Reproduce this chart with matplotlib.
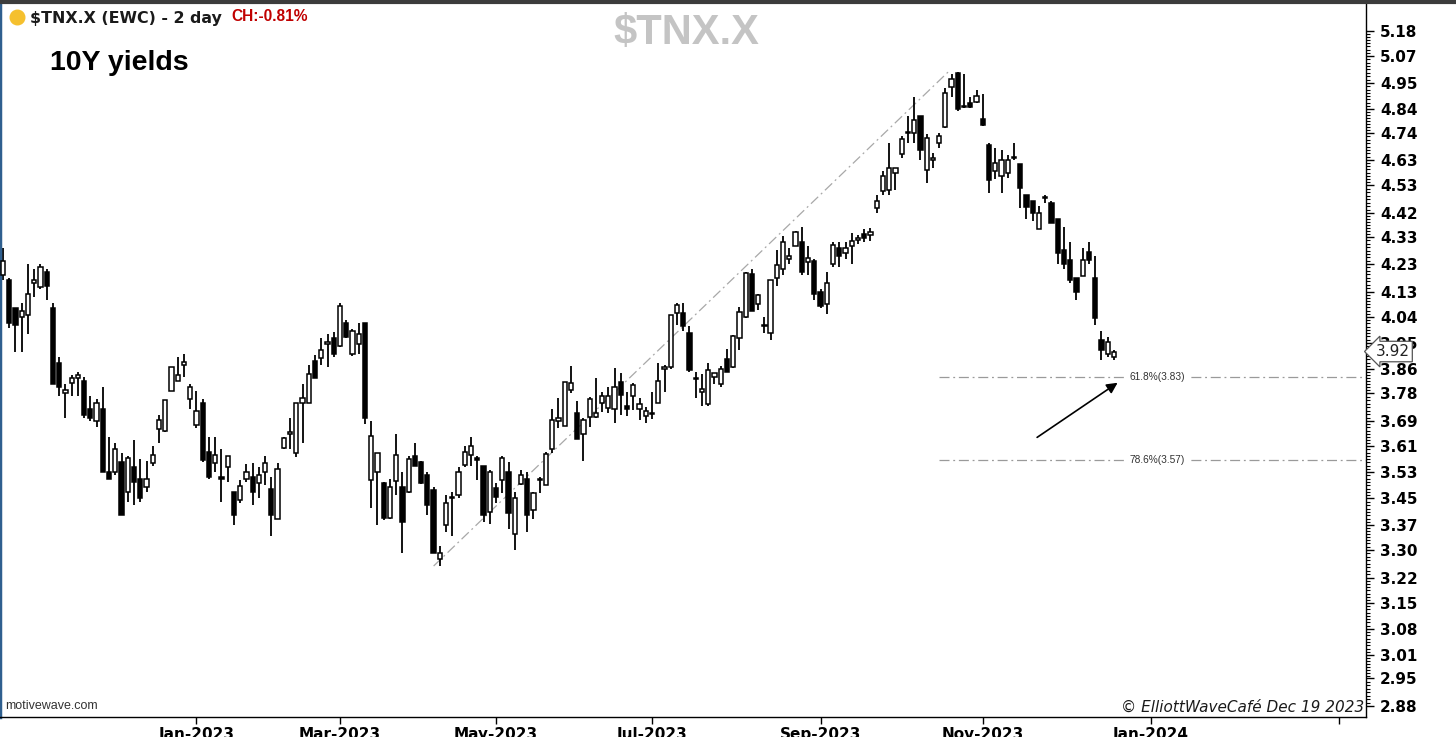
import datetime as dt
import numpy as np
import matplotlib
matplotlib.use("Agg")
import matplotlib.pyplot as plt
from matplotlib.ticker import NullFormatter, FixedLocator
from matplotlib.transforms import blended_transform_factory
from matplotlib.lines import Line2D

# ---------------- data (2-day bars, $TNX.X) ----------------
opens = [4.19, 4.17, 4.07, 4.04, 4.045, 4.16, 4.145, 4.20, 4.07, 3.88,
         3.78, 3.815, 3.83, 3.82, 3.73, 3.69, 3.73, 3.53, 3.53, 3.56,
         3.47, 3.546, 3.51, 3.485, 3.558, 3.664, 3.658, 3.787, 3.82, 3.875,
         3.76, 3.678, 3.75, 3.592, 3.558, 3.515, 3.545, 3.47, 3.445, 3.51,
         3.515, 3.497, 3.53, 3.478, 3.39, 3.604, 3.65, 3.588, 3.75, 3.75,
         3.887, 3.898, 3.945, 3.966, 3.94, 4.017, 3.913, 3.945, 4.017, 3.506,
         3.53, 3.497, 3.393, 3.503, 3.484, 3.47, 3.58, 3.56, 3.52, 3.475,
         3.273, 3.37, 3.455, 3.46, 3.553, 3.582, 3.572, 3.55, 3.41, 3.48,
         3.506, 3.53, 3.345, 3.495, 3.51, 3.415, 3.505, 3.49, 3.60, 3.69,
         3.675, 3.79, 3.717, 3.648, 3.703, 3.703, 3.749, 3.733, 3.73, 3.818,
         3.74, 3.77, 3.73, 3.706, 3.717, 3.748, 3.862, 3.867, 4.055, 4.055,
         3.984, 3.83, 3.785, 3.744, 3.835, 3.81, 3.895, 3.867, 3.968, 4.04,
         4.195, 4.085, 4.012, 3.984, 4.18, 4.21, 4.25, 4.297, 4.31, 4.238,
         4.24, 4.13, 4.085, 4.23, 4.29, 4.27, 4.296, 4.32, 4.34, 4.337,
         4.44, 4.507, 4.51, 4.58, 4.655, 4.74, 4.742, 4.81, 4.59, 4.63,
         4.70, 4.765, 4.935, 4.995, 4.852, 4.865, 4.87, 4.80, 4.69, 4.585,
         4.565, 4.58, 4.642, 4.615, 4.49, 4.47, 4.36, 4.482, 4.46, 4.40,
         4.28, 4.245, 4.18, 4.185, 4.275, 4.18, 3.96, 3.91, 3.90]
highs = [4.29, 4.18, 4.07, 4.09, 4.23, 4.21, 4.23, 4.21, 4.09, 3.90,
         3.81, 3.84, 3.85, 3.835, 3.77, 3.76, 3.80, 3.64, 3.62, 3.59,
         3.58, 3.63, 3.57, 3.565, 3.61, 3.71, 3.758, 3.867, 3.90, 3.91,
         3.81, 3.787, 3.76, 3.64, 3.64, 3.60, 3.58, 3.47, 3.505, 3.555,
         3.558, 3.545, 3.58, 3.515, 3.558, 3.64, 3.70, 3.75, 3.81, 3.873,
         3.908, 3.968, 3.98, 3.988, 4.088, 4.03, 3.997, 4.02, 4.02, 3.69,
         3.59, 3.50, 3.51, 3.65, 3.53, 3.58, 3.62, 3.565, 3.53, 3.485,
         3.31, 3.46, 3.47, 3.545, 3.61, 3.64, 3.58, 3.55, 3.535, 3.497,
         3.58, 3.56, 3.47, 3.535, 3.53, 3.47, 3.515, 3.592, 3.73, 3.765,
         3.818, 3.87, 3.756, 3.70, 3.768, 3.83, 3.785, 3.80, 3.863, 3.847,
         3.785, 3.815, 3.765, 3.736, 3.785, 3.88, 3.874, 4.047, 4.09, 4.09,
         4.007, 3.85, 3.845, 3.88, 3.846, 3.87, 3.93, 3.977, 4.076, 4.20,
         4.21, 4.12, 4.04, 4.172, 4.28, 4.335, 4.29, 4.355, 4.37, 4.295,
         4.25, 4.14, 4.20, 4.31, 4.31, 4.31, 4.346, 4.337, 4.36, 4.365,
         4.49, 4.585, 4.70, 4.60, 4.73, 4.81, 4.89, 4.81, 4.735, 4.66,
         4.74, 4.93, 4.99, 5.00, 4.99, 4.89, 4.92, 4.905, 4.70, 4.68,
         4.67, 4.65, 4.70, 4.615, 4.49, 4.47, 4.45, 4.49, 4.47, 4.40,
         4.37, 4.31, 4.18, 4.29, 4.31, 4.26, 3.99, 3.97, 3.925]
lows = [4.17, 4.00, 3.92, 3.92, 3.98, 4.11, 4.14, 4.10, 3.81, 3.77,
        3.70, 3.77, 3.77, 3.70, 3.69, 3.67, 3.53, 3.51, 3.52, 3.40,
        3.44, 3.43, 3.44, 3.47, 3.55, 3.62, 3.655, 3.787, 3.82, 3.835,
        3.73, 3.668, 3.56, 3.51, 3.53, 3.44, 3.50, 3.37, 3.437, 3.50,
        3.43, 3.45, 3.49, 3.34, 3.39, 3.60, 3.60, 3.576, 3.62, 3.75,
        3.83, 3.875, 3.867, 3.90, 3.935, 3.966, 3.904, 3.913, 3.68, 3.42,
        3.37, 3.385, 3.39, 3.46, 3.29, 3.467, 3.55, 3.494, 3.40, 3.29,
        3.253, 3.35, 3.34, 3.45, 3.546, 3.55, 3.506, 3.38, 3.375, 3.437,
        3.467, 3.36, 3.30, 3.49, 3.35, 3.39, 3.467, 3.49, 3.59, 3.668,
        3.675, 3.78, 3.632, 3.565, 3.67, 3.70, 3.72, 3.717, 3.685, 3.71,
        3.706, 3.727, 3.693, 3.685, 3.697, 3.748, 3.785, 3.862, 4.01, 3.99,
        3.85, 3.766, 3.74, 3.738, 3.81, 3.80, 3.85, 3.864, 3.925, 4.036,
        4.06, 4.065, 3.984, 3.96, 4.15, 4.19, 4.23, 4.297, 4.19, 4.19,
        4.10, 4.07, 4.05, 4.22, 4.22, 4.25, 4.23, 4.305, 4.31, 4.316,
        4.42, 4.49, 4.49, 4.51, 4.64, 4.70, 4.70, 4.63, 4.54, 4.60,
        4.68, 4.76, 4.89, 4.83, 4.845, 4.845, 4.865, 4.77, 4.50, 4.555,
        4.50, 4.56, 4.63, 4.44, 4.40, 4.39, 4.36, 4.46, 4.385, 4.23,
        4.21, 4.16, 4.10, 4.185, 4.23, 4.01, 3.89, 3.90, 3.89]
closes = [4.24, 4.02, 4.01, 4.06, 4.12, 4.17, 4.22, 4.15, 3.81, 3.80,
          3.79, 3.83, 3.84, 3.71, 3.70, 3.75, 3.53, 3.51, 3.60, 3.40,
          3.574, 3.50, 3.45, 3.51, 3.582, 3.693, 3.758, 3.867, 3.84, 3.885,
          3.80, 3.723, 3.567, 3.515, 3.582, 3.51, 3.58, 3.40, 3.487, 3.53,
          3.468, 3.52, 3.558, 3.40, 3.54, 3.635, 3.655, 3.748, 3.765, 3.843,
          3.83, 3.925, 3.952, 3.912, 4.077, 3.97, 3.99, 3.98, 3.70, 3.642,
          3.59, 3.393, 3.484, 3.583, 3.38, 3.57, 3.55, 3.497, 3.43, 3.29,
          3.29, 3.437, 3.45, 3.53, 3.592, 3.61, 3.568, 3.40, 3.53, 3.455,
          3.572, 3.407, 3.45, 3.52, 3.40, 3.465, 3.51, 3.585, 3.695, 3.70,
          3.818, 3.815, 3.632, 3.695, 3.761, 3.717, 3.772, 3.772, 3.80, 3.776,
          3.73, 3.806, 3.745, 3.723, 3.714, 3.822, 3.868, 4.047, 4.082, 4.007,
          3.857, 3.826, 3.795, 3.857, 3.846, 3.86, 3.85, 3.973, 4.058, 4.198,
          4.06, 4.117, 4.008, 4.172, 4.225, 4.312, 4.26, 4.349, 4.20, 4.253,
          4.12, 4.08, 4.16, 4.30, 4.26, 4.29, 4.316, 4.325, 4.327, 4.348,
          4.468, 4.566, 4.60, 4.60, 4.715, 4.745, 4.796, 4.67, 4.72, 4.64,
          4.73, 4.908, 4.967, 4.84, 4.848, 4.85, 4.895, 4.775, 4.55, 4.62,
          4.63, 4.63, 4.638, 4.52, 4.445, 4.42, 4.42, 4.478, 4.385, 4.27,
          4.23, 4.17, 4.13, 4.245, 4.245, 4.035, 3.925, 3.952, 3.92]

last_bar_date = dt.date(2023, 12, 19)
holidays = [dt.date(2022, 11, 24), dt.date(2022, 12, 26), dt.date(2023, 1, 2),
            dt.date(2023, 1, 16), dt.date(2023, 2, 20), dt.date(2023, 4, 7),
            dt.date(2023, 5, 29), dt.date(2023, 6, 19), dt.date(2023, 7, 4),
            dt.date(2023, 9, 4), dt.date(2023, 11, 23), dt.date(2023, 12, 25)]
month_starts = [dt.date(2023, 1, 1), dt.date(2023, 3, 1), dt.date(2023, 5, 1),
                dt.date(2023, 7, 1), dt.date(2023, 9, 1), dt.date(2023, 11, 1),
                dt.date(2024, 1, 1), dt.date(2024, 3, 1)]
month_labels = ["Jan-2023", "Mar-2023", "May-2023", "Jul-2023", "Sep-2023",
                "Nov-2023", "Jan-2024", ""]
ytick_labels = ["5.18", "5.07", "4.95", "4.84", "4.74", "4.63", "4.53", "4.42",
                "4.33", "4.23", "4.13", "4.04", "3.95", "3.86", "3.78", "3.69",
                "3.61", "3.53", "3.45", "3.37", "3.30", "3.22", "3.15", "3.08",
                "3.01", "2.95", "2.88"]
fib_ratios = [0.618, 0.786]
last_price_label = "3.92"
change_label = "CH:-0.81%"

# ---------------- bar calendar (2-calendar-day bars) ----------------
N = len(closes)
hol = set(holidays)
def slot_of(d):
    return (d - last_bar_date).days // 2

slots = []
d = last_bar_date
while len(slots) < N:
    if d.weekday() < 5 and d not in hol:
        s = slot_of(d)
        if not slots or slots[-1] != s:
            slots.append(s)
    d -= dt.timedelta(days=1)
slots = slots[::-1]

def tick_index(ms):
    if ms <= last_bar_date:
        for i, s in enumerate(slots):
            slot_end = last_bar_date + dt.timedelta(days=2 * s + 1)
            if slot_end >= ms:
                return i
    return (N - 1) + slot_of(ms)

tick_pos = [tick_index(m) for m in month_starts]

# ---------------- figure ----------------
W, H = 1456, 737
fig = plt.figure(figsize=(W / 100, H / 100), dpi=100)
fig.patch.set_facecolor("white")
ax = fig.add_axes([0.0, (H - 717) / H, 1366 / W, (717 - 4) / H])
ax.set_yscale("log")

o = np.array(opens); h = np.array(highs); l = np.array(lows); c = np.array(closes)
x = np.arange(N)
up = c >= o
ax.vlines(x, l, h, color="black", lw=1.3, zorder=2)
body_lo = np.minimum(o, c)
body_hi = np.maximum(o, c)
body_h = np.maximum(body_hi - body_lo, 0.002)
ax.bar(x[up], body_h[up], bottom=body_lo[up], width=0.68, color="white",
       edgecolor="black", linewidth=1.1, zorder=3)
ax.bar(x[~up], body_h[~up], bottom=body_lo[~up], width=0.68, color="black",
       edgecolor="black", linewidth=1.1, zorder=3)

# fib anchor line and retracement levels (log scale)
i_lo = int(np.argmin(l)); i_hi = int(np.argmax(h))
lo_v, hi_v = l[i_lo], h[i_hi]
ax.plot([i_lo - 1, i_hi - 1.5], [lo_v, hi_v], color="#a8a8a8", lw=0.9,
        dashes=[8, 3, 1.5, 3], zorder=1)
x_right = 218.4
for r in fib_ratios:
    lvl = np.exp(np.log(hi_v) - r * np.log(hi_v / lo_v))
    ax.plot([i_hi - 3, x_right], [lvl, lvl], color="#9a9a9a", lw=0.9,
            dashes=[8, 3, 1.5, 3], zorder=1)
    ax.text(185.0, lvl, f"{r*100:.1f}%({lvl:.2f})", ha="center", va="center",
            fontsize=7.3, color="#333333", family="Liberation Sans",
            bbox=dict(boxstyle="square,pad=0.25", fc="white", ec="none"), zorder=4)

ax.annotate("", xy=(178.6, 3.815), xytext=(165.7, 3.638),
            arrowprops=dict(arrowstyle="-|>", color="black", lw=1.2,
                            mutation_scale=16, shrinkA=0, shrinkB=0), zorder=5)

# axes limits
ax.set_xlim(-0.48, x_right)
ax.set_ylim(2.8528, 5.303)

# y axis on right
ax.yaxis.tick_right()
yt = [float(v) for v in ytick_labels]
ax.yaxis.set_major_locator(FixedLocator(yt))
ax.set_yticklabels(ytick_labels, fontsize=11, fontweight="bold",
                   family="DejaVu Sans")
minor = []
for a, b in zip(yt[:-1], yt[1:]):
    for k in range(1, 8):
        minor.append(a * (b / a) ** (k / 8))
ax.yaxis.set_minor_locator(FixedLocator(minor))
ax.yaxis.set_minor_formatter(NullFormatter())
ax.tick_params(axis="y", which="major", length=6, width=1.0, pad=4,
               direction="out", colors="black")
ax.tick_params(axis="y", which="minor", length=3, width=0.8, direction="out")

ax.set_xticks(tick_pos)
ax.set_xticklabels(month_labels, fontsize=11, fontweight="bold",
                   family="DejaVu Sans")
ax.tick_params(axis="x", which="major", length=5, width=1.0, pad=2, direction="out")
ax.tick_params(axis="x", which="minor", length=0)

ax.spines["top"].set_visible(False)
ax.spines["left"].set_color("#2f5f8f")
ax.spines["left"].set_linewidth(2.5)
ax.spines["bottom"].set_linewidth(1.0)
ax.spines["right"].set_linewidth(1.0)

# current price marker
trans = blended_transform_factory(ax.transAxes, ax.transData)
ax.text(1.007, c[-1], last_price_label, transform=trans, ha="left", va="center",
        fontsize=11, color="#222222", family="DejaVu Sans",
        bbox=dict(boxstyle="larrow,pad=0.18", fc="white", ec="#555555", lw=0.9),
        zorder=10, clip_on=False)

# ---------------- header / annotations ----------------
def fx(px): return px / W
def fy(py): return 1 - py / H

fig.add_artist(Line2D([0, 1], [fy(1.5), fy(1.5)], color="#3c3c3c", lw=3.0))
fig.add_artist(Line2D([fx(17)], [fy(17)], marker="o", markersize=10.5,
                      color="#f5c02e", linestyle="none"))
fig.text(fx(30), fy(18), "$TNX.X (EWC) - 2 day", fontsize=11.4, fontweight="bold",
         color="#1a1a1a", family="DejaVu Sans", ha="left", va="center")
fig.text(fx(231), fy(16.5), change_label, fontsize=11.2, fontweight="bold",
         color="#c00000", family="Liberation Sans", ha="left", va="center")
fig.text(fx(686), fy(33), "$TNX.X", fontsize=30, fontweight="bold",
         color="#c4c4c4", family="Liberation Sans", ha="center", va="center")
fig.text(fx(50), fy(63), "10Y yields", fontsize=20.5, fontweight="bold",
         color="black", family="Liberation Sans", ha="left", va="center")
fig.text(fx(5), fy(706), "motivewave.com", fontsize=9, color="#333333",
         family="Liberation Sans", ha="left", va="center")
fig.text(fx(1364), fy(707), "\u00a9 ElliottWaveCaf\u00e9 Dec 19 2023", fontsize=11,
         style="italic", color="#1a1a1a", family="DejaVu Sans", ha="right", va="center")

fig.savefig("out.png", dpi=100)
